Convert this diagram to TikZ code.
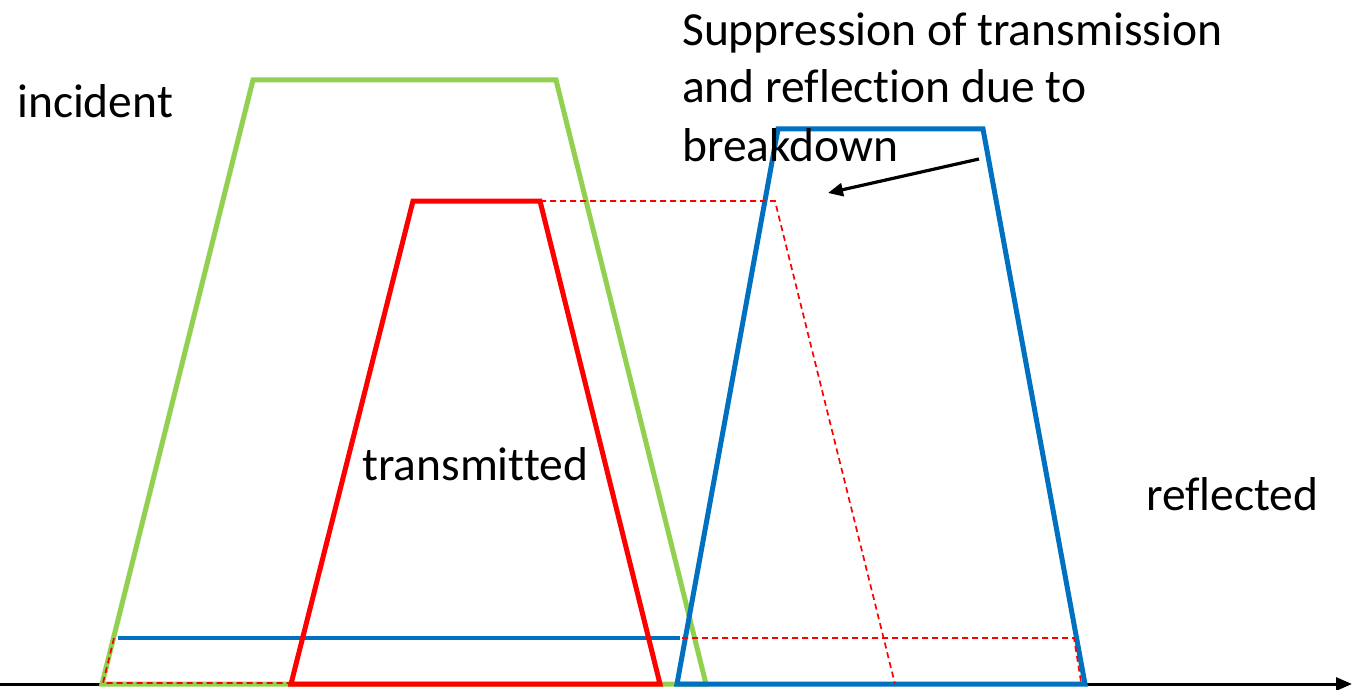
\documentclass[tikz,border=0pt]{standalone}
\usepackage{fontspec}
\setmainfont[RawFeature={-liga;-clig;-dlig;-calt}]{Carlito}
\usetikzlibrary{arrows.meta}
\definecolor{pgreen}{HTML}{92D050}
\definecolor{pred}{HTML}{FF0000}
\definecolor{pblue}{HTML}{0070C0}
\tikzset{
  pulse/.style={line width=5pt, line join=miter},
  ghost/.style={pred, line width=1.7pt, dash pattern=on 6pt off 4pt},
  lbl/.style={anchor=base west, inner sep=0pt, font=\fontsize{47.5}{57.5}\selectfont},
}
\begin{document}
\begin{tikzpicture}[x=1pt,y=-1pt]
\useasboundingbox (0,0) rectangle (1352,690);
% axis
\coordinate (ax0) at (0,684);
\coordinate (ax1) at (1352,684);
\draw[line width=3pt, -{Triangle[length=16pt,width=13pt]}] (ax0) -- (ax1);
% incident pulse
\draw[pulse, pgreen] (102,684) -- (253,80) -- (556,80) -- (706,684) -- cycle;
% blue baseline level
\draw[pulse, pblue, line width=4.5pt] (118,638) -- (680,638);
% transmitted
\draw[pulse, pred] (291,684) -- (413,201) -- (540,201) -- (660,684) -- cycle;
% reflected
\draw[pulse, pblue] (677,684) -- (778,129) -- (983,129) -- (1085,684) -- cycle;
% dashed ghosts
\draw[ghost] (114,638) -- (103,683) -- (290,683);
\draw[ghost] (540,201) -- (775,201) -- (895,684);
\draw[ghost] (682,638) -- (1074,638) -- (1081,682);
% labels
\node[lbl] (inc) at (17,118) {incident};
\node[lbl] (tra) at (362,480) {transmitted};
\node[lbl] (ref) at (1146,510) {reflected};
\node[lbl] (s1) at (682,46) {Suppression of transmission};
\node[lbl] (s2) at (682,103) {and reflection due to};
\node[lbl] (s3) at (682,161) {breakdown};
% arrow
\coordinate (a0) at (979,159);
\coordinate (a1) at (828,193);
\draw[line width=3.2pt, -{Triangle[length=15pt,width=13pt]}] (a0) -- (a1);
\end{tikzpicture}
\end{document}
